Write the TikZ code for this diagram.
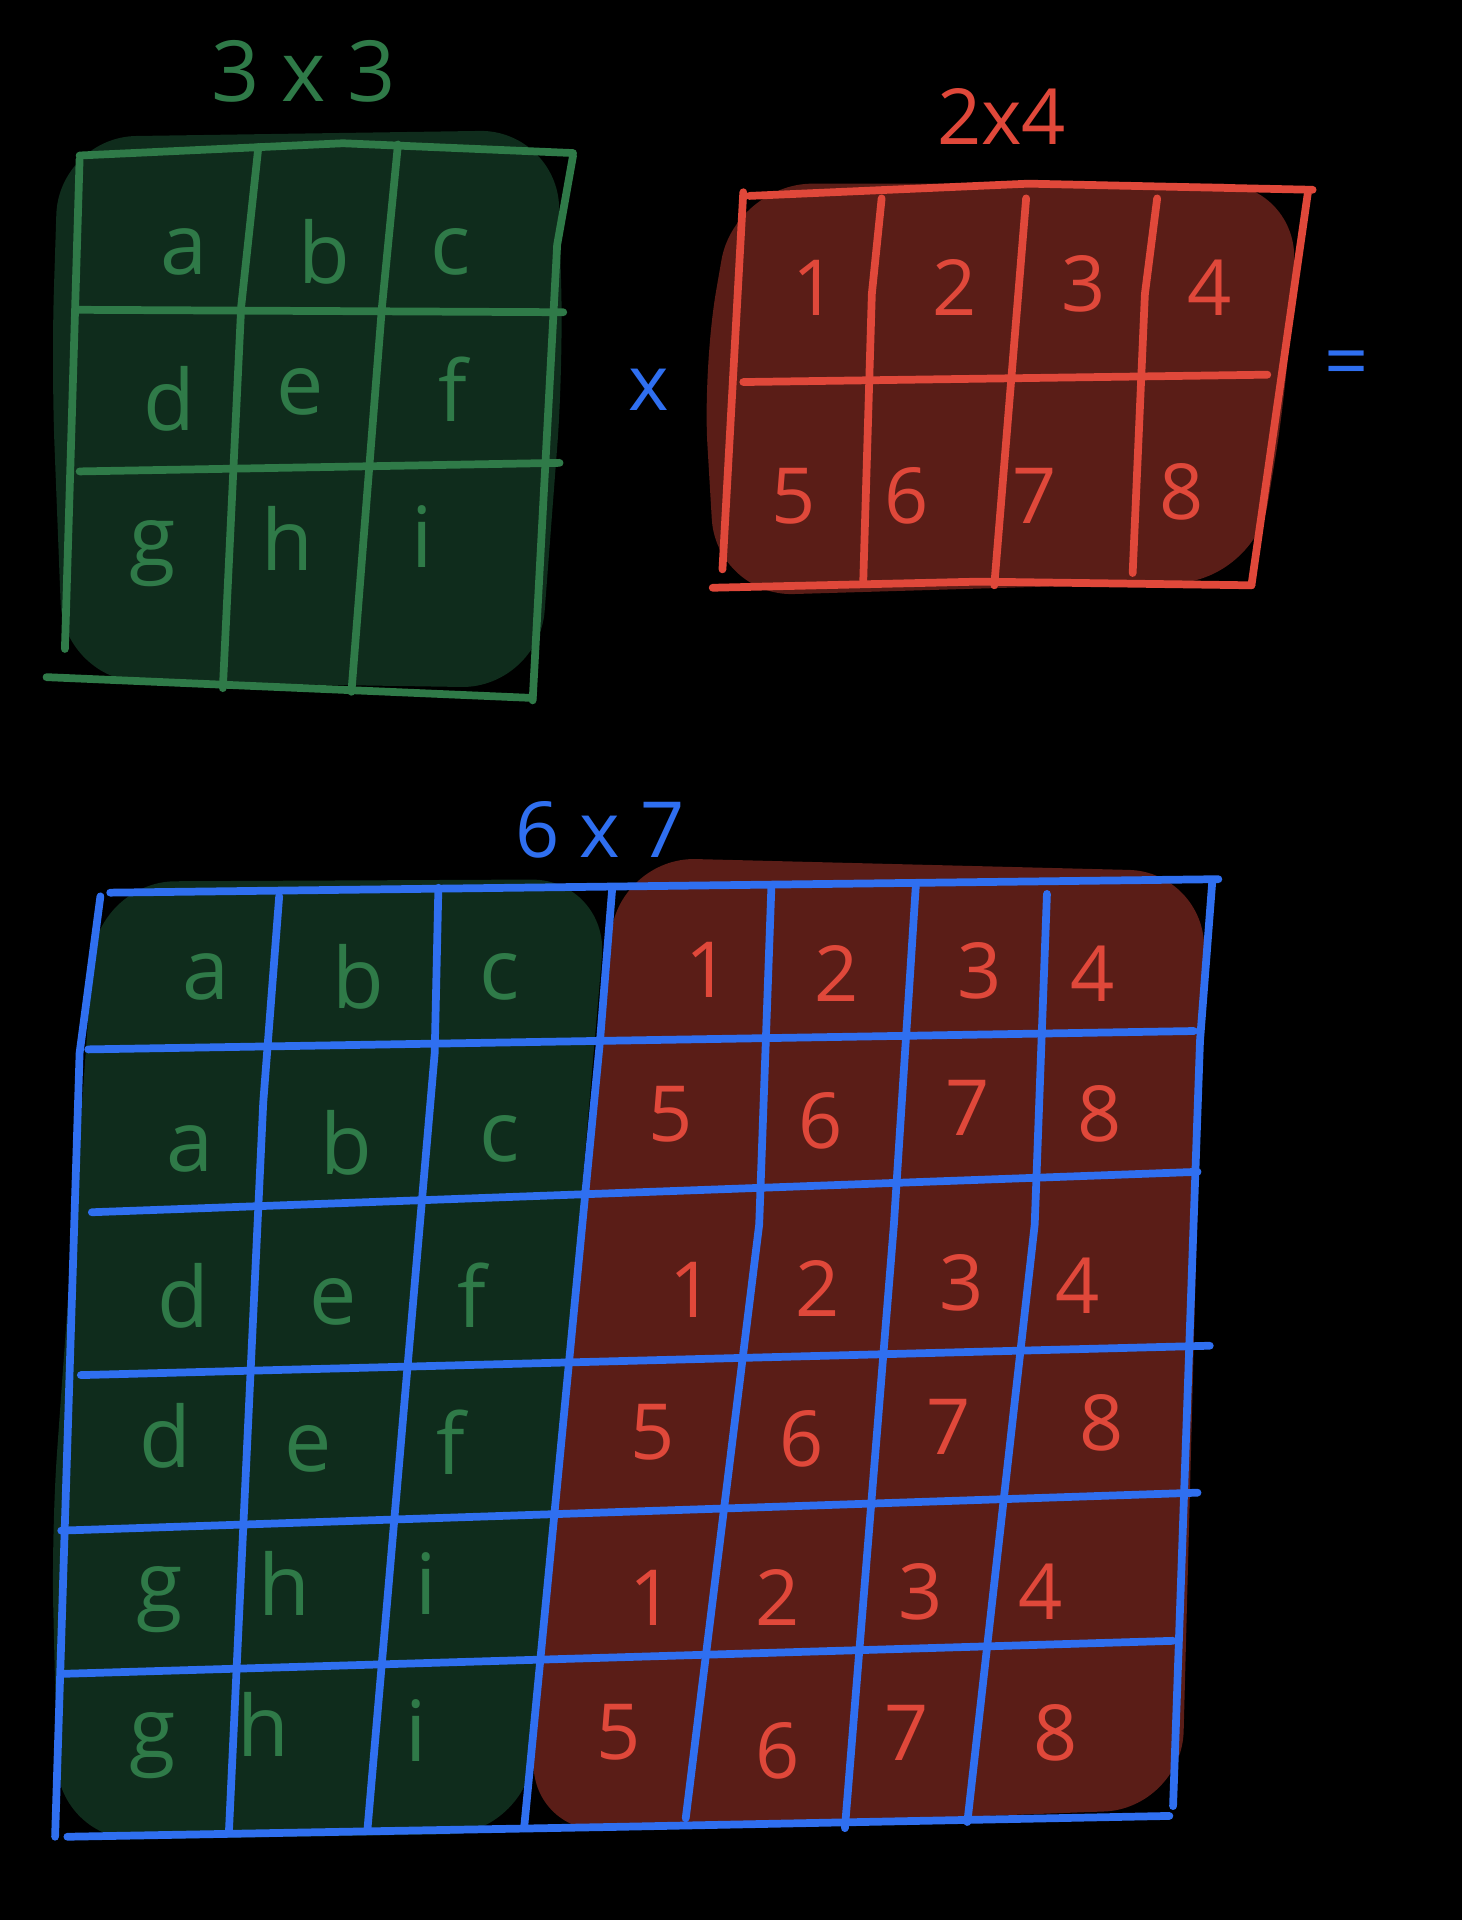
\documentclass[tikz,border=0pt]{standalone}
\usepackage{fontspec}
\setmainfont{Open Sans}

\definecolor{gfill}{HTML}{0F2C1C}
\definecolor{gline}{HTML}{2F7A48}
\definecolor{rfill}{HTML}{5A1D17}
\definecolor{rline}{HTML}{E0483A}
\definecolor{bline}{HTML}{2F6FF0}

\begin{document}
\begin{tikzpicture}[x=0.012245cm,y=-0.012245cm]
    \tikzset{
        % hand drawn strokes
        pen/.style={line width=2.2pt,line cap=round,line join=round},
        blob/.style={rounded corners=22pt},
        glab/.style={text=gline,font=\fontsize{24}{26}\selectfont},
        rlab/.style={text=rline,font=\fontsize{22}{24}\selectfont},
        blab/.style={text=bline,font=\fontsize{22}{24}\selectfont}
    }
    \fill[black] (0,0) rectangle (1194,1568);
    \useasboundingbox (0,0) rectangle (1194,1568);

    % 3 x 3
    \fill[gfill,blob] (48,112) -- (455,106) -- (460,300) -- (440,562) -- (52,556) -- (42,300) -- cycle;
    \draw[pen,gline] (65,127) -- (280,117) -- (468,125);
    \draw[pen,gline] (65,130) -- (53,530);
    \draw[pen,gline] (468,127) -- (455,200) -- (435,572);
    \draw[pen,gline] (38,553) -- (435,570);
    \draw[pen,gline] (62,253) -- (460,255);
    \draw[pen,gline] (65,385) -- (457,378);
    \draw[pen,gline] (211,120) -- (197,250) -- (182,562);
    \draw[pen,gline] (325,118) -- (312,250) -- (287,565);
    \node[glab] (t33) at (248,58) {3 x 3};
    \node[glab] (ga) at (150,206) {a};
    \node[glab] (gb) at (265,206) {b};
    \node[glab] (gc) at (368,206) {c};
    \node[glab] (gd) at (138,326) {d};
    \node[glab] (ge) at (245,320) {e};
    \node[glab] (gf) at (370,318) {f};
    \node[glab] (gg) at (125,452) {g};
    \node[glab] (gh) at (235,440) {h};
    \node[glab] (gi) at (345,438) {i};

    \node[blab] (times) at (530,318) {x};

    % 2 x 4
    \fill[rfill,blob] (600,150) -- (1060,150) -- (1052,310) -- (1025,474) -- (585,487) -- (574,300) -- cycle;
    \draw[pen,rline] (612,160) -- (840,150) -- (1072,155);
    \draw[pen,rline] (607,157) -- (590,465);
    \draw[pen,rline] (1068,158) -- (1022,478);
    \draw[pen,rline] (582,480) -- (800,475) -- (1022,478);
    \draw[pen,rline] (607,312) -- (1035,306);
    \draw[pen,rline] (720,162) -- (712,240) -- (705,474);
    \draw[pen,rline] (838,162) -- (812,478);
    \draw[pen,rline] (945,162) -- (935,240) -- (925,468);
    \node[rlab] (t24) at (818,95) {2x4};
    \node[rlab] (r1) at (665,235) {1};
    \node[rlab] (r2) at (780,235) {2};
    \node[rlab] (r3) at (885,232) {3};
    \node[rlab] (r4) at (988,235) {4};
    \node[rlab] (r5) at (648,405) {5};
    \node[rlab] (r6) at (740,405) {6};
    \node[rlab] (r7) at (845,405) {7};
    \node[rlab] (r8) at (965,402) {8};

    \node[blab] (equals) at (1100,302) {=};

    % 6 x 7
    \fill[gfill,blob] (80,720) -- (497,718) -- (430,1497) -- (48,1503) -- (42,1250) -- cycle;
    \fill[rfill,blob] (505,700) -- (985,712) -- (965,1477) -- (430,1497) -- cycle;
    \draw[pen,bline] (90,729) -- (995,718);
    \draw[pen,bline] (82,732) -- (65,860) -- (45,1500);
    \draw[pen,bline] (990,720) -- (980,850) -- (958,1475);
    \draw[pen,bline] (55,1500) -- (500,1492) -- (955,1483);
    \draw[pen,bline] (72,857) -- (975,842);
    \draw[pen,bline] (75,990) -- (978,957);
    \draw[pen,bline] (66,1123) -- (988,1099);
    \draw[pen,bline] (50,1250) -- (978,1219);
    \draw[pen,bline] (50,1367) -- (958,1340);
    \draw[pen,bline] (228,732) -- (215,900) -- (187,1495);
    \draw[pen,bline] (358,725) -- (355,860) -- (300,1495);
    \draw[pen,bline] (500,725) -- (490,850) -- (428,1493);
    \draw[pen,bline] (630,723) -- (620,1000) -- (560,1485);
    \draw[pen,bline] (748,722) -- (730,1000) -- (690,1493);
    \draw[pen,bline] (855,730) -- (845,1000) -- (790,1488);
    \node[blab] (t67) at (490,678) {6 x 7};

    \node[glab] (a1) at (168,798) {a};
    \node[glab] (b1) at (293,798) {b};
    \node[glab] (c1) at (408,798) {c};
    \node[glab] (a2) at (155,938) {a};
    \node[glab] (b2) at (283,933) {b};
    \node[glab] (c2) at (408,930) {c};
    \node[glab] (d1) at (150,1058) {d};
    \node[glab] (e1) at (272,1063) {e};
    \node[glab] (f1) at (385,1058) {f};
    \node[glab] (d2) at (135,1173) {d};
    \node[glab] (e2) at (252,1183) {e};
    \node[glab] (f2) at (368,1178) {f};
    \node[glab] (g1) at (130,1306) {g};
    \node[glab] (h1) at (232,1293) {h};
    \node[glab] (i1) at (348,1293) {i};
    \node[glab] (g2) at (125,1426) {g};
    \node[glab] (h2) at (215,1408) {h};
    \node[glab] (i2) at (340,1413) {i};

    \node[rlab] (n11) at (578,792) {1};
    \node[rlab] (n12) at (683,795) {2};
    \node[rlab] (n13) at (800,793) {3};
    \node[rlab] (n14) at (892,795) {4};
    \node[rlab] (n15) at (548,910) {5};
    \node[rlab] (n16) at (670,915) {6};
    \node[rlab] (n17) at (790,905) {7};
    \node[rlab] (n18) at (898,910) {8};
    \node[rlab] (n21) at (565,1053) {1};
    \node[rlab] (n22) at (668,1052) {2};
    \node[rlab] (n23) at (785,1048) {3};
    \node[rlab] (n24) at (880,1050) {4};
    \node[rlab] (n25) at (533,1170) {5};
    \node[rlab] (n26) at (655,1175) {6};
    \node[rlab] (n27) at (775,1165) {7};
    \node[rlab] (n28) at (900,1162) {8};
    \node[rlab] (n31) at (532,1305) {1};
    \node[rlab] (n32) at (635,1305) {2};
    \node[rlab] (n33) at (752,1300) {3};
    \node[rlab] (n34) at (850,1300) {4};
    \node[rlab] (n35) at (505,1415) {5};
    \node[rlab] (n36) at (635,1430) {6};
    \node[rlab] (n37) at (740,1415) {7};
    \node[rlab] (n38) at (862,1415) {8};
\end{tikzpicture}
\end{document}
